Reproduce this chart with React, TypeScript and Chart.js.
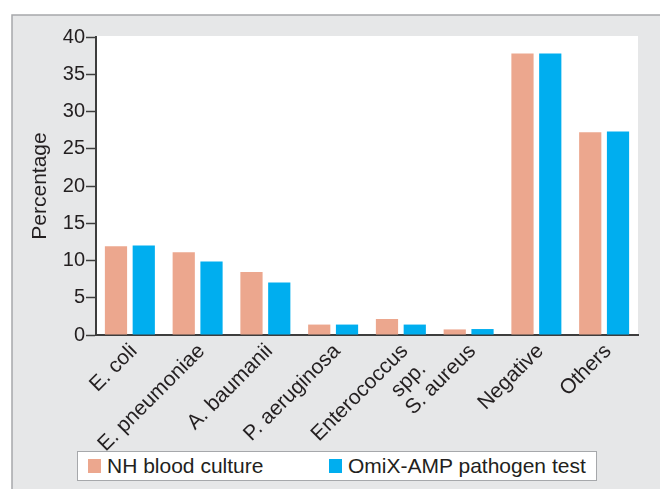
import React, { useEffect, useRef } from "react";
import { Chart, registerables } from "chart.js";

Chart.register(...registerables);

const categories: (string | string[])[] = [
  "E. coli",
  "E. pneumoniae",
  "A. baumanii",
  "P. aeruginosa",
  ["Enterococcus", "spp."],
  "S. aureus",
  "Negative",
  "Others",
];
const nhBloodCulture = [11.9, 11.1, 8.45, 1.4, 2.15, 0.75, 37.8, 27.2];
const omixAmp = [12.0, 9.85, 7.05, 1.4, 1.4, 0.8, 37.8, 27.3];
const seriesNames = ["NH blood culture", "OmiX-AMP pathogen test"];
const seriesColors = ["#eca78e", "#00aeef"];
const yTicks = [0, 5, 10, 15, 20, 25, 30, 35, 40];

const FONT = "'Liberation Sans', Arial, Helvetica, sans-serif";
const TEXT = "#231f20";

const framePlugin = {
  id: "frame",
  beforeDraw(chart: any) {
    const { ctx, chartArea } = chart;
    const w = chart.width;
    const h = chart.height;
    ctx.save();
    ctx.fillStyle = "#ffffff";
    ctx.fillRect(0, 0, w, h);
    ctx.fillStyle = "#e6e7e8";
    ctx.fillRect(12, 15, w, h);
    ctx.strokeStyle = "#a6a8ab";
    ctx.lineWidth = 1.5;
    ctx.strokeRect(12, 15, w + 10, h + 10);
    ctx.fillStyle = "#ffffff";
    ctx.fillRect(chartArea.left, chartArea.top - 1, chartArea.right - chartArea.left, chartArea.bottom - chartArea.top + 1);
    ctx.restore();
  },
};

export default function App() {
  const ref = useRef<HTMLCanvasElement | null>(null);

  useEffect(() => {
    document.body.style.margin = "0";
    if (!ref.current) return;
    const chart = new Chart(ref.current, {
      type: "bar",
      data: {
        labels: categories,
        datasets: [
          {
            label: seriesNames[0],
            data: nhBloodCulture,
            backgroundColor: seriesColors[0],
            borderWidth: 0,
            categoryPercentage: 0.82,
            barPercentage: 0.8,
          },
          {
            label: seriesNames[1],
            data: omixAmp,
            backgroundColor: seriesColors[1],
            borderWidth: 0,
            categoryPercentage: 0.82,
            barPercentage: 0.8,
          },
        ],
      },
      options: {
        responsive: false,
        animation: false,
        layout: { padding: { top: 37, right: 22, left: 0, bottom: 0 } },
        plugins: {
          legend: { display: false },
          tooltip: { enabled: false },
        },
        scales: {
          x: {
            grid: { display: false, drawTicks: false },
            border: { display: true, color: "#3d3d3d", width: 2 },
            ticks: {
              color: TEXT,
              font: { family: FONT, size: 21 },
              maxRotation: 45,
              minRotation: 45,
              padding: 4,
              labelOffset: 4,
              autoSkip: false,
            },
            afterFit(scale: any) {
              scale.height = 154;
            },
          },
          y: {
            min: 0,
            max: 40,
            afterBuildTicks(scale: any) {
              scale.ticks = yTicks.map((v) => ({ value: v }));
            },
            grid: {
              drawOnChartArea: false,
              drawTicks: true,
              tickLength: 10,
              tickColor: "#3d3d3d",
              tickWidth: 1.5,
            },
            border: { display: true, color: "#3d3d3d", width: 2 },
            ticks: {
              color: TEXT,
              font: { family: FONT, size: 20 },
              padding: 1,
            },
            title: {
              display: true,
              text: "Percentage",
              color: TEXT,
              font: { family: FONT, size: 21 },
              padding: { top: 28, bottom: 0 },
            },
            afterFit(scale: any) {
              scale.width = 96;
            },
          },
        },
      },
      plugins: [framePlugin],
    });
    return () => chart.destroy();
  }, []);

  return (
    <div style={{ position: "relative", width: 660, height: 489, overflow: "hidden" }}>
      <canvas ref={ref} width={660} height={489} style={{ position: "absolute", left: 0, top: 0 }} />
      <div
        style={{
          position: "absolute",
          left: 77,
          top: 451,
          width: 518,
          height: 28,
          background: "#ffffff",
          border: "1.5px solid #a6a8ab",
          fontFamily: FONT,
          fontSize: 21,
          color: TEXT,
        }}
      >
        {seriesNames.map((name, i) => (
          <div
            key={name}
            style={{
              position: "absolute",
              left: i === 0 ? 10 : 251,
              top: 0,
              height: 28,
              display: "flex",
              alignItems: "center",
              whiteSpace: "nowrap",
            }}
          >
            <span
              style={{
                display: "inline-block",
                width: 13,
                height: 14,
                background: seriesColors[i],
                marginRight: 6,
              }}
            />
            <span style={{ lineHeight: "28px" }}>{name}</span>
          </div>
        ))}
      </div>
    </div>
  );
}
